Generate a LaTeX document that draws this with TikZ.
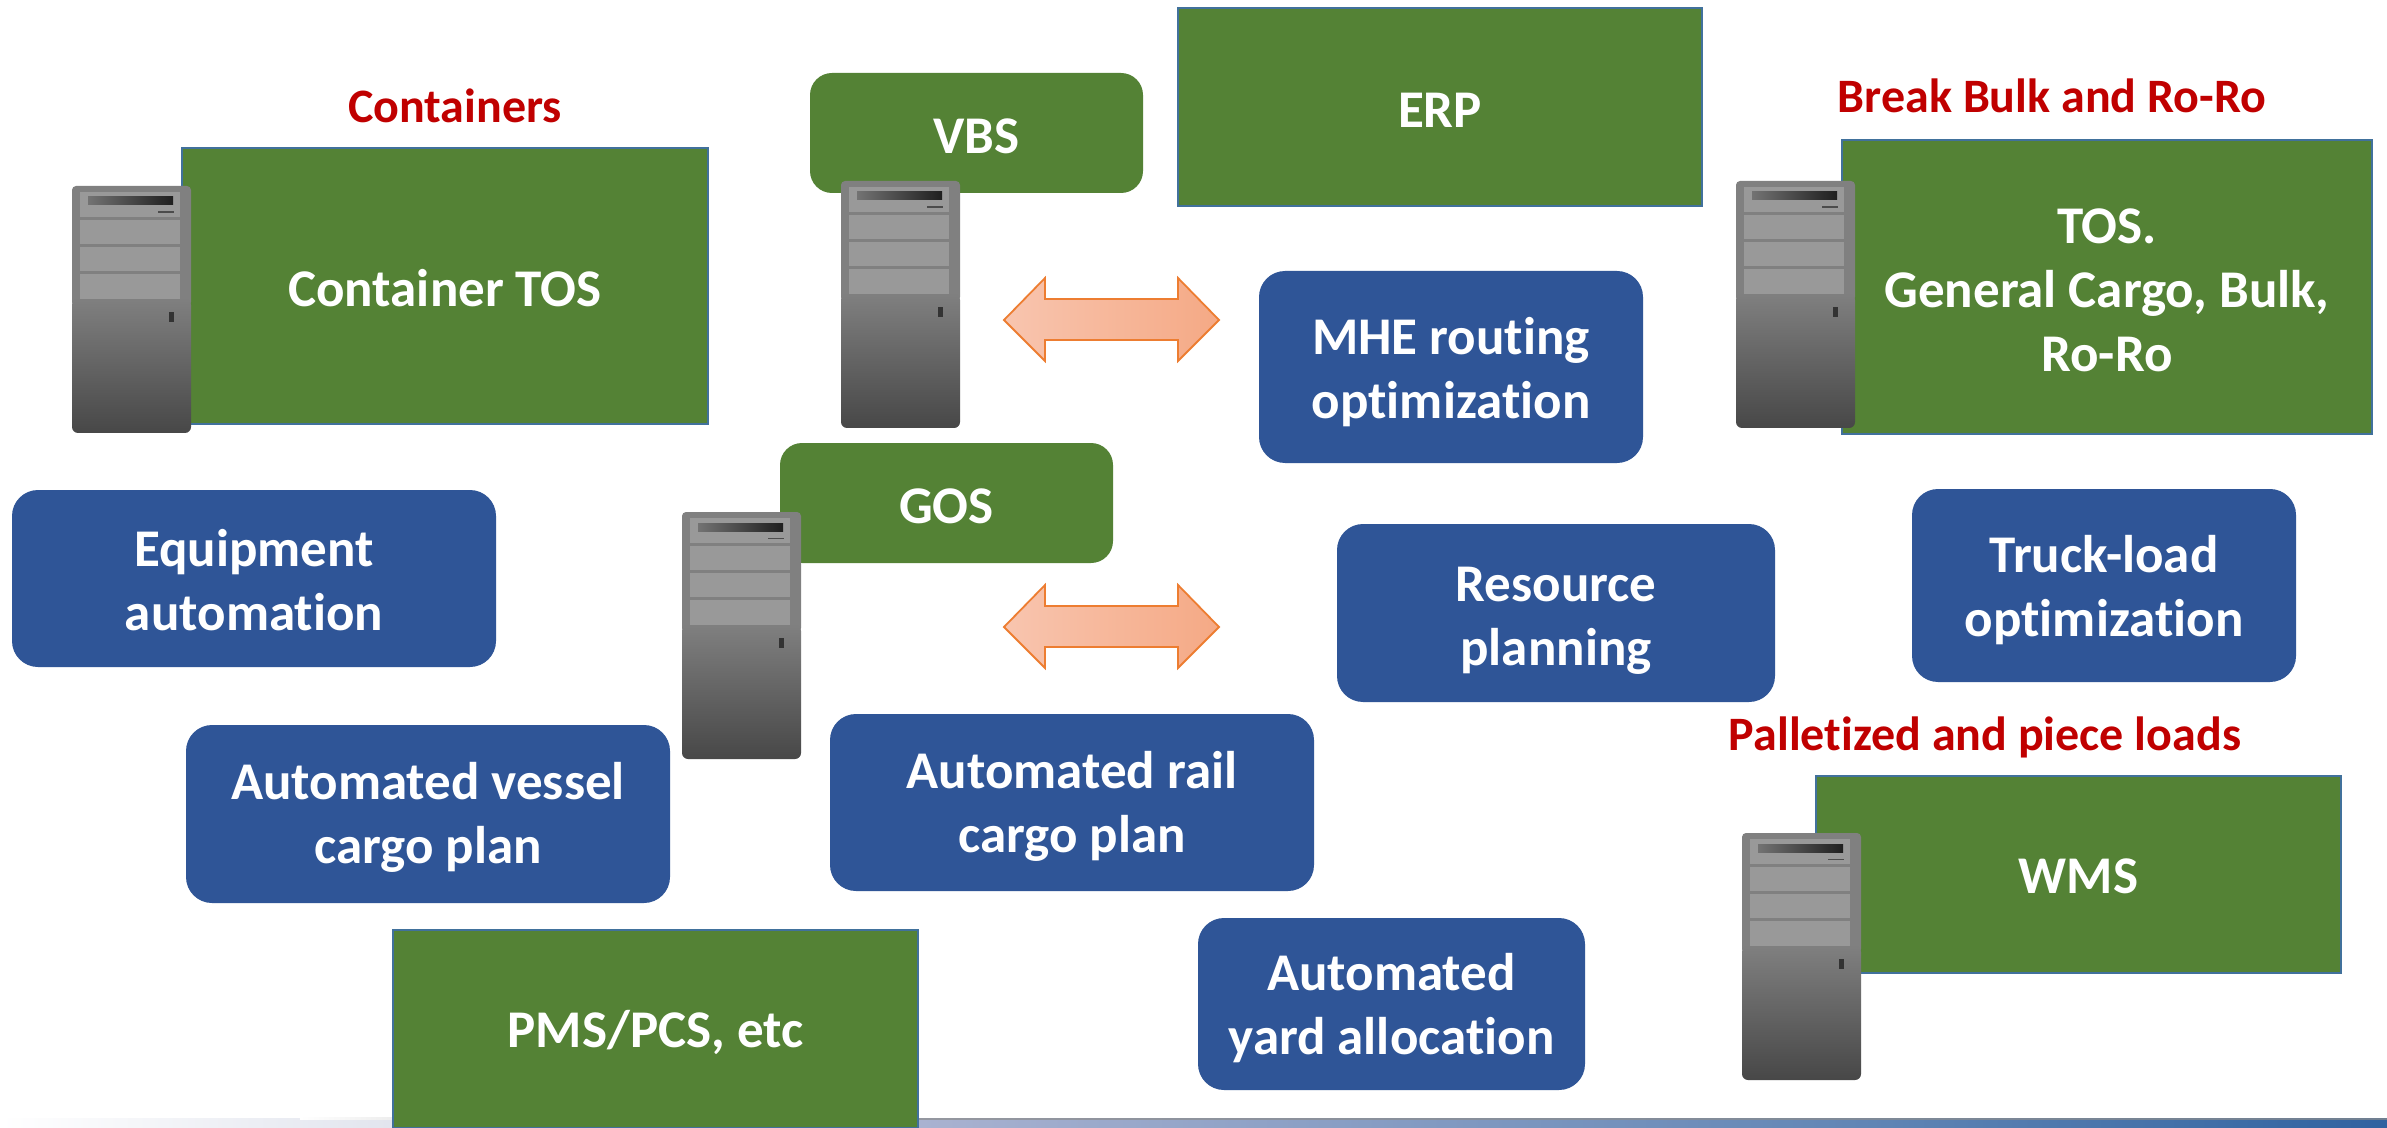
\documentclass[tikz,border=0pt]{standalone}
\usepackage{fontspec}
\setmainfont[RawFeature={-liga}]{Carlito}
\definecolor{grn}{HTML}{548235}
\definecolor{edge}{HTML}{41719C}
\definecolor{blu}{HTML}{2F5597}
\definecolor{redt}{HTML}{C00000}
\definecolor{orl}{HTML}{F8C5AF}
\definecolor{orr}{HTML}{F5A985}
\definecolor{ore}{HTML}{ED7D31}
\definecolor{stA}{HTML}{E2E5EE}
\definecolor{stB}{HTML}{A9B2D0}
\definecolor{stC}{HTML}{5F84B4}
\definecolor{stD}{HTML}{2F62A0}
\newcommand\boxnode[8][3]{% dy, name, style, x1, y1, x2, y2, text
  \pgfmathsetmacro\bw{(#6-#4)*0.5}\pgfmathsetmacro\bh{(#7-#5)*0.5}
  \node[#3,minimum width=\bw pt,minimum height=\bh pt] (#2) at ({(#4+#6)/2},{(#5+#7)/2}) {};
  \node[boxtext] (#2t) at ({(#4+#6)/2},{(#5+#7)/2+#1}) {#8};}
\newcommand\srv[2]{%
  \begin{scope}[shift={(#1,#2)}]
    \fill[srvB,rounded corners=2pt] (0,0) -- (119,0) -- (119,120) -- (0,120) -- cycle;
    \shade[top color=srvB,bottom color=srvC,rounded corners=3pt] (0,113) -- (119,113) -- (119,247) -- (0,247) -- cycle;
    \fill[bayc] (8,6) rectangle (108,31);
    \shade[left color=black!55,right color=black!88] (16,11) rectangle (101,19);
    \fill[black!70] (86,25.5) rectangle (102,27);
    \fill[bayc] (8,34) rectangle (108,58);
    \fill[bayc] (8,61) rectangle (108,85);
    \fill[bayc] (8,88) rectangle (108,113);
    \fill[black!80] (97,126) rectangle (102,136);
  \end{scope}}
\newcommand\dblarrow[1]{%
  \begin{scope}[shift={(0,#1)}]
    \path[left color=orl,right color=orr,draw=ore,line width=0.9pt,line join=miter]
      (1004,320) -- (1045,278) -- (1045,299) -- (1178,299) -- (1178,278) -- (1219,320)
      -- (1178,361) -- (1178,340) -- (1045,340) -- (1045,361) -- cycle;
  \end{scope}}
\colorlet{srvB}{black!50}
\colorlet{srvC}{black!72}
\colorlet{bayc}{black!40}
\tikzset{
  gbox/.style={draw=edge,line width=1.3pt,fill=grn,inner sep=0pt},
  grbox/.style={fill=grn,rounded corners=11pt,inner sep=0pt},
  bbox/.style={fill=blu,rounded corners=13pt,inner sep=0pt},
  boxtext/.style={text=white,inner sep=0pt,align=center,font=\fontsize{26.5}{32}\selectfont\bfseries},
  hdr/.style={text=redt,inner sep=0pt,font=\fontsize{24}{29}\selectfont\bfseries}
}
\begin{document}
\begin{tikzpicture}[x=0.5pt,y=-0.5pt]
\useasboundingbox (0,0) rectangle (2387,1128);
\fill[white] (0,0) rectangle (2387,1128);
% bottom strip
\shade[left color=white,right color=stA] (0,1118) rectangle (390,1128);
\shade[left color=stA,right color=stB] (390,1118) rectangle (920,1128);
\shade[left color=stB,right color=stC] (920,1118) rectangle (1887,1128);
\shade[left color=stC,right color=stD] (1887,1118) rectangle (2387,1128);
\shade[left color=white,right color=black!45] (300,1117.5) rectangle (900,1119.5);
\fill[black!45,opacity=.7] (900,1117.5) rectangle (2387,1119.5);
% green boxes
\boxnode[2]{ctos}{gbox}{182}{148}{708}{424}{Container TOS}
\boxnode{erp}{gbox}{1178}{8}{1702}{206}{ERP}
\boxnode{tos}{gbox}{1842}{140}{2372}{434}{TOS.\\General Cargo, Bulk,\\Ro-Ro}
\boxnode[2]{wms}{gbox}{1816}{776}{2341}{973}{WMS}
\boxnode{pms}{gbox}{393}{930}{918}{1128}{PMS/PCS, etc}
\boxnode{vbs}{grbox}{810}{73}{1143}{193}{VBS}
\boxnode{gos}{grbox}{780}{443}{1113}{563}{GOS}
% blue boxes
\boxnode[2]{equip}{bbox}{12}{490}{496}{667}{Equipment\\automation}
\boxnode{vessel}{bbox}{186}{725}{670}{903}{Automated vessel\\cargo plan}
\boxnode[4]{rail}{bbox}{830}{714}{1314}{891}{Automated rail\\cargo plan}
\boxnode[4]{yard}{bbox}{1198}{918}{1585}{1090}{Automated\\yard allocation}
\boxnode[5]{mhe}{bbox}{1259}{271}{1643}{463}{MHE routing\\optimization}
\boxnode[8]{res}{bbox}{1337}{524}{1775}{702}{Resource\\planning}
\boxnode[5]{truck}{bbox}{1912}{489}{2296}{682}{Truck-load\\optimization}
% headers
\node[hdr] (h1) at (455,106) {Containers};
\node[hdr] (h2) at (2052,96) {Break Bulk and Ro-Ro};
\node[hdr] (h3) at (1985,737) {Palletized and piece loads};
% arrows
\dblarrow{0}
\dblarrow{307}
% servers
\srv{72}{186}
\srv{841}{181}
\srv{682}{512}
\srv{1736}{181}
\srv{1742}{833}
\end{tikzpicture}
\end{document}
